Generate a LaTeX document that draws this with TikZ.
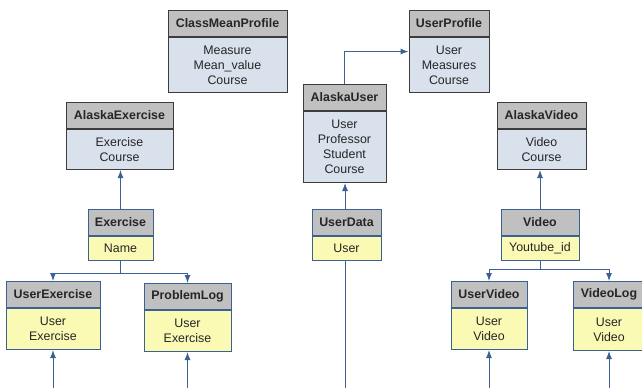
\documentclass[tikz,border=0pt]{standalone}
\usepackage{fontspec}
\setmainfont{Liberation Sans}
\usetikzlibrary{arrows.meta,calc}

\definecolor{hdrgray}{HTML}{C0C0C0}
\definecolor{bodyblue}{HTML}{D8E1EC}
\definecolor{bodyyellow}{HTML}{FAFAB4}
\definecolor{edgeblue}{HTML}{3A6094}
\definecolor{edgegray}{HTML}{3C3C3C}
\definecolor{txt}{HTML}{262626}

\tikzset{
  hdr/.style={anchor=north, fill=hdrgray, minimum height=26*0.75pt, inner sep=0pt,
    font=\fontsize{9.3}{11.25}\selectfont\bfseries, text=txt, line width=0.75pt},
  body/.style={anchor=north, align=center, inner sep=0pt, text=txt, line width=0.75pt,
    font=\fontsize{9.3}{11.25}\selectfont},
  blu/.style={draw=edgegray},
  yel/.style={draw=edgeblue},
  link/.style={draw=edgeblue, line width=0.75pt, -{Latex[length=6pt,width=4.5pt]}},
  plain/.style={draw=edgeblue, line width=0.75pt}
}

\begin{document}
\begin{tikzpicture}[x=0.75pt,y=-0.75pt]
\useasboundingbox (0,0) rectangle (642,387);
\clip (0,0) rectangle (642,387);
\coordinate (bot) at (0,392); % bottom edge

% upper classes (blue)
\node[hdr,blu,minimum width=119*0.75pt] (cmp) at (227.5,10) {ClassMeanProfile};
\node[body,blu,fill=bodyblue,minimum width=119*0.75pt,minimum height=55*0.75pt] (cmp-b) at (cmp.south) {Measure\\Mean\_value\\Course};
\node[hdr,blu,minimum width=80*0.75pt] (up) at (449,10) {UserProfile};
\node[body,blu,fill=bodyblue,minimum width=80*0.75pt,minimum height=55*0.75pt] (up-b) at (up.south) {User\\Measures\\Course};
\node[hdr,blu,minimum width=107*0.75pt] (aex) at (119.5,102) {AlaskaExercise};
\node[body,blu,fill=bodyblue,minimum width=107*0.75pt,minimum height=40*0.75pt] (aex-b) at (aex.south) {Exercise\\Course};
\node[hdr,blu,minimum width=83*0.75pt] (au) at (344.5,84) {AlaskaUser};
\node[body,blu,fill=bodyblue,minimum width=83*0.75pt,minimum height=71*0.75pt] (au-b) at (au.south) {User\\Professor\\Student\\Course};
\node[hdr,blu,minimum width=89*0.75pt] (av) at (541.5,102) {AlaskaVideo};
\node[body,blu,fill=bodyblue,minimum width=89*0.75pt,minimum height=40*0.75pt] (av-b) at (av.south) {Video\\Course};

% middle classes (yellow)
\node[hdr,yel,minimum width=65*0.75pt] (ex) at (120.5,209) {Exercise};
\node[body,yel,fill=bodyyellow,minimum width=65*0.75pt,minimum height=24*0.75pt] (ex-b) at (ex.south) {Name};
\node[hdr,yel,minimum width=69*0.75pt] (ud) at (346.5,209) {UserData};
\node[body,yel,fill=bodyyellow,minimum width=69*0.75pt,minimum height=24*0.75pt] (ud-b) at (ud.south) {User};
\node[hdr,yel,minimum width=78*0.75pt] (vid) at (540,209) {Video};
\node[body,yel,fill=bodyyellow,minimum width=78*0.75pt,minimum height=24*0.75pt] (vid-b) at (vid.south) {Youtube\_id};

% lower classes (yellow)
\node[hdr,yel,minimum width=94*0.75pt] (uex) at (53,281) {UserExercise};
\node[body,yel,fill=bodyyellow,minimum width=94*0.75pt,minimum height=41*0.75pt] (uex-b) at (uex.south) {User\\Exercise};
\node[hdr,yel,minimum width=87*0.75pt] (pl) at (187.5,283) {ProblemLog};
\node[body,yel,fill=bodyyellow,minimum width=87*0.75pt,minimum height=41*0.75pt] (pl-b) at (pl.south) {User\\Exercise};
\node[hdr,yel,minimum width=76*0.75pt] (uv) at (489,281) {UserVideo};
\node[body,yel,fill=bodyyellow,minimum width=76*0.75pt,minimum height=41*0.75pt] (uv-b) at (uv.south) {User\\Video};
\node[hdr,yel,minimum width=72*0.75pt] (vl) at (609,281) {VideoLog};
\node[body,yel,fill=bodyyellow,minimum width=72*0.75pt,minimum height=42*0.75pt] (vl-b) at (vl.south) {User\\Video};

% links
\draw[link] (au.north) |- ($(up.north west)!0.5!(up-b.south west)$); % to UserProfile
\draw[link] (ex.north) -- (ex.north |- aex-b.south);
\draw[link] ([xshift=-1.1pt]ud.north) -- ([xshift=-1.1pt]ud.north |- au-b.south);
\draw[link] (vid.north) -- (vid.north |- av-b.south);
\draw[link] (ex-b.south) -- ++(0,12) -| (uex.north); % fork Exercise
\draw[link] (ex-b.south) -- ++(0,12) -| (pl.north);
\draw[link] (vid-b.south) -- ++(0,8) -| (uv.north); % fork Video
\draw[link] (vid-b.south) -- ++(0,8) -| (vl.north);
\draw[plain] ([xshift=-1.1pt]ud-b.south) -- ([xshift=-1.1pt]ud-b.south |- bot); % down from UserData
\foreach \n in {uex-b,pl-b,uv-b,vl-b}
  \draw[link] (\n.south |- bot) -- (\n.south);
\end{tikzpicture}
\end{document}
